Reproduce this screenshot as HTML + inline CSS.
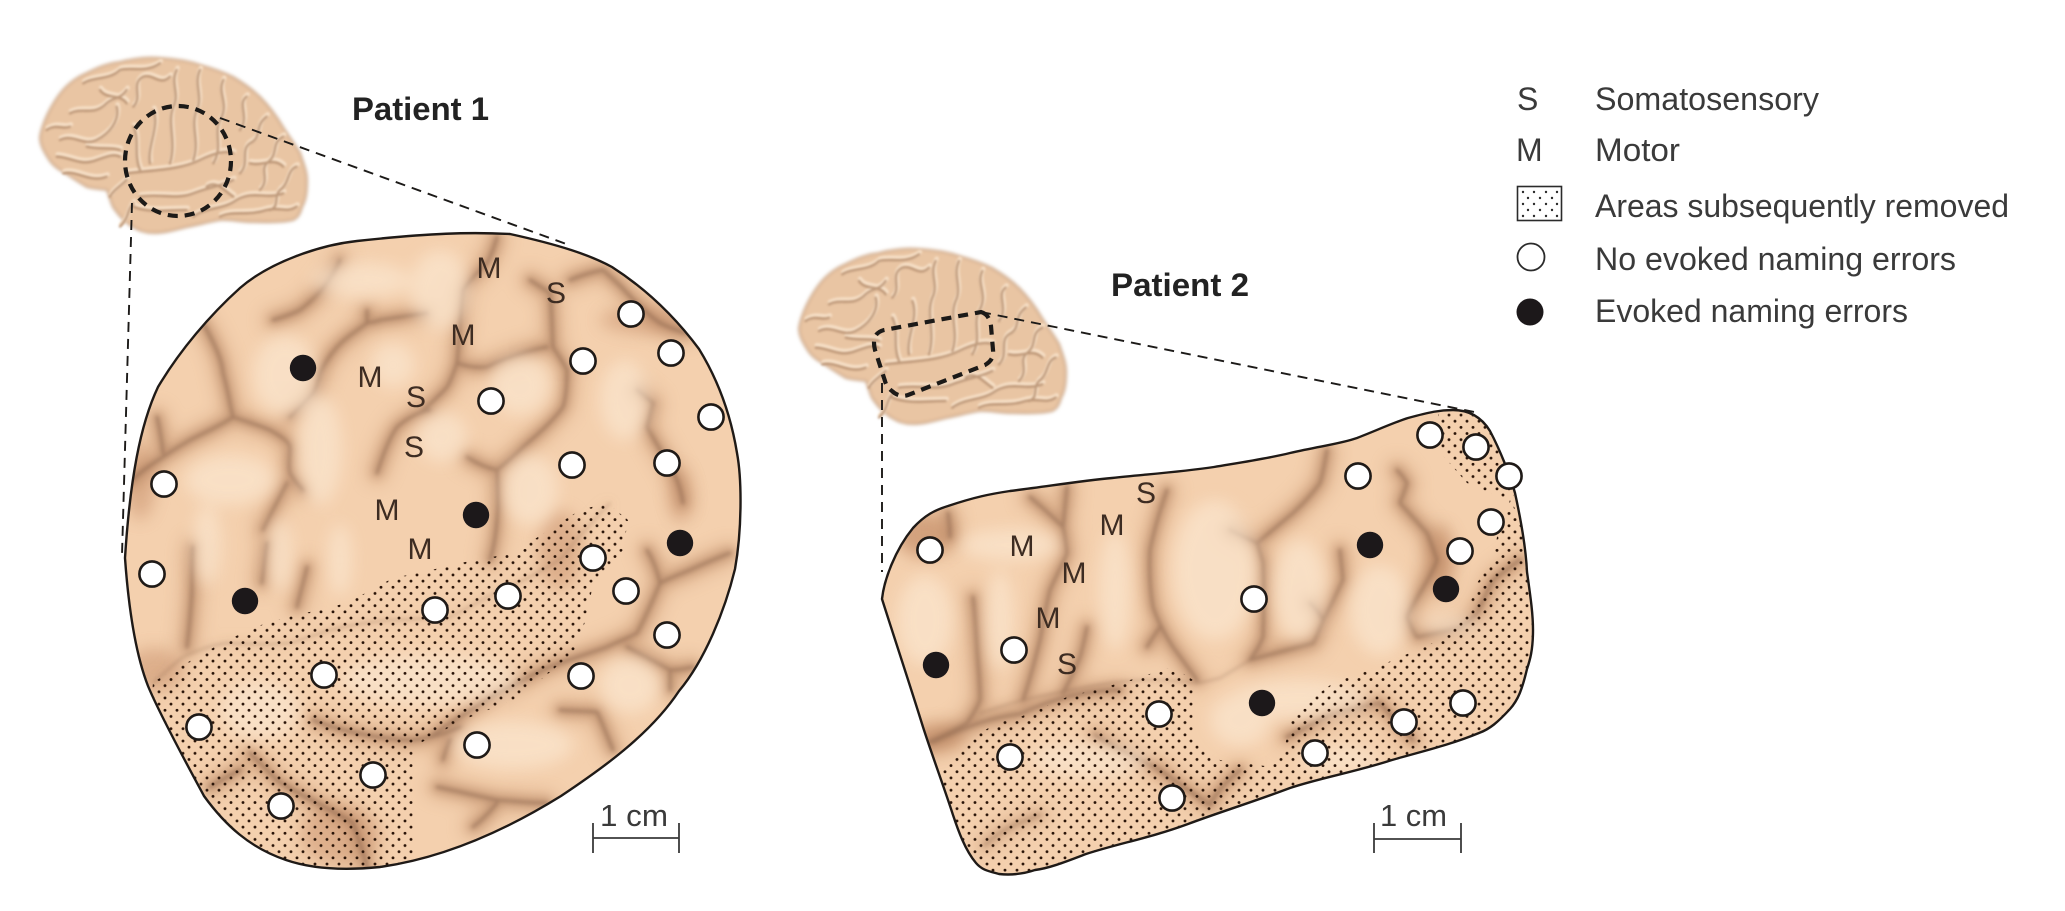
<!DOCTYPE html>
<html lang="en">
<head>
<meta charset="utf-8">
<title>Patient diagram</title>
<style>
html,body{margin:0;padding:0;background:#fff;width:2065px;height:911px;overflow:hidden}
svg{display:block}
text{font-family:"Liberation Sans",Arial,sans-serif}
.l{font-size:30px;fill:#3d2c22;text-anchor:middle}
.t{font-size:32px;fill:#3a3a3a}
.h{font-size:32px;font-weight:bold;fill:#222}
.c{font-size:31px;fill:#3a3a3a}
</style>
</head>
<body>
<svg width="2065" height="911" viewBox="0 0 2065 911" xmlns="http://www.w3.org/2000/svg">
<defs>
<filter id="b9" x="-30%" y="-30%" width="160%" height="160%"><feGaussianBlur stdDeviation="8"/></filter>
<filter id="b4" x="-30%" y="-30%" width="160%" height="160%"><feGaussianBlur stdDeviation="4.2"/></filter>
<filter id="b1" x="-30%" y="-30%" width="160%" height="160%"><feGaussianBlur stdDeviation="1.8"/></filter>
<filter id="bs" x="-10%" y="-10%" width="120%" height="120%"><feGaussianBlur stdDeviation="2.8"/></filter>
<filter id="bh" x="-10%" y="-10%" width="120%" height="120%"><feGaussianBlur stdDeviation="3"/></filter>
<filter id="be" x="-10%" y="-10%" width="120%" height="120%"><feGaussianBlur stdDeviation="1.8"/></filter>
<pattern id="st" width="12" height="12.3" patternUnits="userSpaceOnUse">
<circle cx="3" cy="3" r="1.45" fill="#2a1408"/><circle cx="9" cy="9.15" r="1.45" fill="#2a1408"/>
</pattern>
<path id="p1o" d="M125,558 C128,600 134,650 148,686 C160,715 190,770 204,796 C225,825 250,848 286,860 C315,870 350,870 380,867 C430,860 490,840 561,796 C600,770 650,735 679,691 C705,660 725,610 735,569 C742,530 742,480 737,453 C730,410 715,375 699,349 C670,310 640,285 612,267 C590,255 560,245 510,234 C470,232 430,233 357,241 C320,245 270,262 240,288 C210,315 180,350 158,387 C140,425 130,480 125,558 Z"/>
<path id="p2o" d="M882,599 C884,580 895,550 913,528 C925,515 935,510 948,506 C975,497 990,494 1010,491 C1050,486 1080,481 1112,478 C1150,474 1180,472 1214,467 C1250,461 1270,458 1290,453 C1320,446 1340,444 1357,438 C1375,431 1395,422 1408,418 C1430,412 1440,410 1453,410 C1470,410 1482,418 1490,431 C1500,450 1510,475 1515,493 C1522,525 1526,550 1527,572 C1531,600 1533,615 1533,630 C1533,650 1530,660 1527,669 C1522,690 1518,700 1510,709 C1498,722 1490,729 1479,733 C1450,745 1420,752 1392,760 C1355,772 1320,778 1290,788 C1250,803 1220,812 1188,824 C1150,838 1120,843 1086,854 C1065,862 1050,868 1035,870 C1020,875 1008,875 999,874 C988,871 982,870 976,863 C965,850 958,830 953,815 C945,790 932,755 923,727 C910,685 895,640 882,599 Z"/>
<clipPath id="c1"><use href="#p1o"/></clipPath>
<clipPath id="c2"><use href="#p2o"/></clipPath>
<g id="s1">
<path d="M203,323 C215,345 222,360 223,373 C228,390 230,405 233,417 C222,425 205,432 190,440 C178,447 170,452 163,457 C150,465 140,472 130,482"/>
<path d="M157,417 C160,430 162,442 163,453"/>
<path d="M340,260 C335,272 330,278 327,283 C318,295 308,304 300,310 C290,315 280,318 273,320"/>
<path d="M233,417 C245,421 258,425 270,430 C280,436 288,440 290,447 C290,458 288,465 290,473 C295,482 300,486 303,490 M287,483 C278,500 270,515 263,530"/>
<path d="M380,320 C376,322 371,322 367,323 C355,332 345,338 337,347 C330,355 324,364 320,373 C318,382 316,388 313,393 C305,402 297,410 290,417 M367,310 L367,323 M380,320 C395,318 412,315 427,313"/>
<path d="M430,410 C415,413 405,420 397,427 C388,440 382,458 377,473"/>
<path d="M497,237 C494,248 491,256 487,263 C478,272 468,282 463,290 C460,315 459,345 457,363 C453,375 450,382 447,387 C438,397 428,406 420,413"/>
<path d="M457,363 C468,367 478,368 487,367 C505,358 530,350 547,347"/>
<path d="M530,280 C538,285 545,290 550,293 C552,312 552,330 553,347 C558,355 563,362 567,370 C567,385 566,397 563,407 C552,422 537,435 523,447 C514,456 505,464 497,470 C487,468 476,463 467,457"/>
<path d="M497,470 C498,482 498,495 498,507 C497,525 495,545 490,560"/>
<path d="M570,280 C582,275 592,272 603,270 C612,278 620,285 627,293 C638,305 650,316 660,323 C670,328 678,331 687,333"/>
<path d="M637,390 C643,395 648,399 653,403 C650,412 649,420 647,427 C657,445 668,462 677,480 C680,488 682,496 683,503"/>
<path d="M193,547 C192,562 192,578 192,590 C191,610 189,630 187,647"/>
<path d="M267,543 C265,556 264,570 262,583"/>
<path d="M307,567 C304,580 300,594 297,607"/>
<path d="M153,683 C163,674 173,665 183,657 C198,650 212,645 227,643 C248,644 270,645 290,643 C304,639 317,634 330,630 C350,625 370,622 390,620 C405,620 418,619 430,618 C440,618 445,618 450,617 C462,611 475,604 487,597 C515,585 542,572 563,557 C568,550 575,540 590,525 C598,515 605,508 610,503" stroke-width="1.2"/>
<path d="M313,720 C328,726 342,730 357,733 C375,737 395,740 413,740 C430,738 447,733 460,727"/>
<path d="M250,753 C259,762 268,771 277,780 C290,789 304,796 317,803 C330,810 342,816 353,823 C358,838 363,850 367,868"/>
<path d="M210,787 C220,781 230,775 240,770"/>
<path d="M430,737 C440,730 450,723 460,717 C472,709 485,701 497,693 C515,684 532,675 547,668 C567,660 587,654 607,647 C617,642 628,638 637,633 C645,618 653,600 660,583 C657,570 652,558 647,550"/>
<path d="M660,583 C670,578 680,574 690,570 C703,564 717,558 730,553"/>
<path d="M627,647 C640,654 655,662 670,670 C678,670 685,669 693,667 M670,670 C670,677 670,683 670,690"/>
<path d="M560,710 C572,711 585,711 597,712 C603,725 608,738 613,750"/>
<path d="M437,787 C457,791 477,796 497,800 C515,801 530,803 547,803 M497,803 C490,812 482,820 473,827"/>
<path d="M443,760 C445,753 447,746 450,740"/>
</g>
<g id="s2">
<path d="M948,513 C949,520 950,530 950,537"/>
<path d="M973,597 C975,612 976,630 977,647 C978,665 980,682 980,700 C977,708 972,716 967,723 C955,730 940,737 927,743"/>
<path d="M980,713 C994,709 1009,704 1023,700 C1044,695 1066,691 1087,687 C1107,683 1127,680 1147,680 C1164,680 1181,681 1197,683 C1205,682 1212,680 1220,678 C1230,672 1240,666 1250,660" stroke-width="1.2"/>
<path d="M1030,497 C1042,507 1053,517 1063,527 C1065,535 1066,545 1067,553 C1062,566 1055,578 1050,590 C1046,606 1043,623 1040,640 C1035,660 1030,680 1023,700"/>
<path d="M1067,487 L1063,527"/>
<path d="M1167,490 C1160,510 1154,530 1150,550 C1149,570 1150,590 1153,607 C1158,622 1165,635 1173,647 C1181,658 1189,669 1197,680"/>
<path d="M1087,627 C1085,637 1083,647 1080,657 C1075,670 1069,682 1063,693"/>
<path d="M1160,627 C1155,634 1151,640 1147,647"/>
<path d="M1327,450 C1325,462 1323,473 1320,483 C1312,494 1303,504 1293,513 C1281,523 1269,533 1257,543 C1248,539 1239,535 1230,530"/>
<path d="M1257,543 C1259,550 1261,556 1263,563 C1264,588 1264,612 1263,637 C1260,645 1255,653 1250,660"/>
<path d="M1250,660 C1271,654 1292,649 1313,643 C1317,636 1320,628 1323,620 C1330,607 1337,593 1343,580 C1342,570 1341,560 1340,550"/>
<path d="M1310,603 C1315,608 1320,614 1323,620"/>
<path d="M1397,470 C1401,474 1404,478 1407,483 C1405,490 1402,497 1400,503 C1409,513 1418,523 1427,533 C1431,542 1434,551 1437,560 C1430,580 1415,598 1407,617 C1410,625 1413,631 1417,637 C1432,634 1446,631 1460,627 C1466,623 1472,618 1477,613 C1482,602 1488,591 1493,580 C1502,573 1511,566 1520,560"/>
<path d="M1287,737 C1302,729 1318,721 1333,713 C1348,709 1364,706 1380,703 C1391,715 1402,728 1413,740"/>
<path d="M933,742 C960,730 985,718 1020,714 C1050,700 1085,690 1120,690"/>
<path d="M1210,805 C1195,795 1180,785 1160,770 C1130,755 1110,745 1095,735 M1240,770 C1222,785 1215,795 1210,805"/>
<path d="M985,845 C1000,830 1020,822 1040,815" opacity=".6"/>
</g>
<g id="bf">
<path d="M120,300 C160,280 190,320 230,300 C270,280 300,240 290,200"/>
<path d="M150,220 C190,200 220,230 260,190 C280,170 300,180 320,150"/>
<path d="M110,350 C150,350 180,380 230,360 C260,350 280,340 300,350"/>
<path d="M130,400 C170,390 210,430 260,410"/>
<path d="M190,130 C220,110 270,120 300,90 C330,80 380,100 420,70"/>
<path d="M340,200 C370,170 330,130 370,110 C400,100 420,140 450,110"/>
<path d="M340,260 C360,300 340,340 360,390"/>
<path d="M400,210 C420,260 380,320 390,370"/>
<path d="M470,90 C450,130 480,160 460,200 C440,250 470,300 450,370"/>
<path d="M540,90 C520,130 550,170 530,210 C510,260 540,300 520,360"/>
<path d="M610,120 C590,160 630,190 600,240 C580,280 610,320 580,370"/>
<path d="M680,170 C650,190 690,230 660,270"/>
<path d="M740,230 C700,260 730,290 690,310 C660,330 690,370 660,400"/>
<path d="M790,290 C750,310 780,340 740,370 C720,390 750,420 720,450"/>
<path d="M830,380 C800,390 810,430 780,450 C760,470 780,500 750,510"/>
<path d="M320,400 C400,390 480,390 540,360 C580,340 620,330 640,340"/>
<path d="M320,420 C300,440 280,450 270,470"/>
<path d="M360,470 C420,460 470,480 520,460 C570,440 600,440 640,420"/>
<path d="M340,500 C390,520 440,510 500,510"/>
<path d="M520,530 C560,500 610,510 650,480 C700,450 740,480 790,460"/>
<path d="M600,530 C640,510 680,530 740,510 C780,500 800,520 830,500"/>
<path d="M690,370 C730,380 760,350 790,380"/>
<path d="M560,440 C590,420 610,450 640,470"/>
<path d="M300,560 C330,530 320,510 340,490"/>
<path d="M80,270 C110,250 130,270 150,260"/>
<path d="M240,150 C260,180 300,160 320,190"/>
<path d="M200,320 C240,330 270,320 300,330"/>
</g>
<g id="brain">
<path d="M40,137 C42,125 50,105 63,90 C72,80 80,76 87,73 C100,66 110,63 120,62 C135,58 150,57 160,58 C175,59 190,61 200,65 C215,69 225,73 233,77 C245,84 253,90 260,97 C270,107 277,117 283,127 C290,138 296,146 300,153 C304,165 307,172 307,180 C307,192 306,200 302,207 C300,214 298,218 293,220 C280,223 265,222 253,222 C240,222 230,219 220,220 C208,222 198,225 187,227 C175,230 165,233 153,233 C145,233 139,231 133,227 C124,222 118,214 113,207 C110,200 109,195 107,190 C100,189 94,189 87,187 C78,182 70,176 60,170 C52,165 49,160 45,153 C42,148 40,143 40,137 Z" fill="#e9c5a3" stroke="#c09674" stroke-width="1.6" filter="url(#be)"/>
<g transform="translate(20,40) scale(.3333)" fill="none" stroke-linecap="round">
<use href="#bf" transform="translate(3,-7)" stroke="#f6dfc6" stroke-width="13" filter="url(#bh)"/>
<use href="#bf" stroke="#ab8262" stroke-width="7" filter="url(#bs)" opacity=".75"/>
</g>
</g>
</defs>
<rect width="2065" height="911" fill="#fff"/>

<use href="#brain"/>
<use href="#brain" transform="translate(759,191)"/>

<!-- Patient 1 surface -->
<g clip-path="url(#c1)">
<rect x="110" y="220" width="640" height="660" fill="#f4d0ae"/>
<g fill="#cf9a76" opacity=".6" filter="url(#b9)">
<ellipse cx="140" cy="480" rx="16" ry="40"/><ellipse cx="155" cy="670" rx="30" ry="22"/>
<ellipse cx="680" cy="495" rx="10" ry="28"/><ellipse cx="650" cy="320" rx="50" ry="14"/>
<ellipse cx="560" cy="550" rx="22" ry="40"/><ellipse cx="340" cy="835" rx="40" ry="30"/>
</g>
<g fill="none" stroke-linecap="round" stroke-linejoin="round">
<use href="#s1" stroke="#c9966f" stroke-width="22" filter="url(#b9)" opacity=".5"/>
<use href="#s1" stroke="#a4775a" stroke-width="9" filter="url(#b4)" opacity=".5"/>
<use href="#s1" stroke="#7d5a44" stroke-width="3" filter="url(#b1)" opacity=".38"/>
</g>
<g fill="#fbe6cf" opacity=".7" filter="url(#b9)">
<ellipse cx="230" cy="480" rx="45" ry="25"/><ellipse cx="320" cy="450" rx="22" ry="55"/>
<ellipse cx="285" cy="375" rx="32" ry="40"/><ellipse cx="393" cy="365" rx="22" ry="22"/>
<ellipse cx="442" cy="437" rx="25" ry="25"/><ellipse cx="520" cy="385" rx="30" ry="30"/>
<ellipse cx="625" cy="400" rx="25" ry="40"/><ellipse cx="530" cy="490" rx="28" ry="35"/>
<ellipse cx="207" cy="545" rx="14" ry="40"/><ellipse cx="280" cy="555" rx="12" ry="36"/><ellipse cx="340" cy="560" rx="12" ry="36"/>
<ellipse cx="430" cy="680" rx="90" ry="26"/><ellipse cx="260" cy="710" rx="40" ry="30"/>
<ellipse cx="630" cy="685" rx="30" ry="28"/><ellipse cx="513" cy="745" rx="60" ry="24"/>
<ellipse cx="440" cy="290" rx="30" ry="40"/><ellipse cx="360" cy="280" rx="50" ry="18"/>
</g>
<path d="M153,682 L227,640 L268,622 L347,603 L393,578 L423,572 L460,563 L513,553 L580,510 L607,503 L628,520 L623,550 L593,583 L587,617 L573,653 L520,697 L463,720 L413,747 L413,880 L327,880 L240,850 L190,800 L150,720 Z" fill="url(#st)"/>
</g>
<use href="#p1o" fill="none" stroke="#1f1a17" stroke-width="2.4"/>

<!-- Patient 2 surface -->
<g clip-path="url(#c2)">
<rect x="870" y="400" width="680" height="490" fill="#f4d0ae"/>
<g fill="#c48d68" opacity=".7" filter="url(#b9)">
<ellipse cx="925" cy="535" rx="30" ry="22"/><ellipse cx="935" cy="738" rx="30" ry="14"/>
<ellipse cx="1440" cy="560" rx="14" ry="35"/>
</g>
<g fill="none" stroke-linecap="round" stroke-linejoin="round">
<use href="#s2" stroke="#c9966f" stroke-width="22" filter="url(#b9)" opacity=".5"/>
<use href="#s2" stroke="#a4775a" stroke-width="9" filter="url(#b4)" opacity=".5"/>
<use href="#s2" stroke="#7d5a44" stroke-width="3" filter="url(#b1)" opacity=".38"/>
</g>
<g fill="#fbe6cf" opacity=".7" filter="url(#b9)">
<ellipse cx="1215" cy="570" rx="42" ry="70"/><ellipse cx="1300" cy="590" rx="26" ry="50"/>
<ellipse cx="1115" cy="590" rx="16" ry="60"/><ellipse cx="925" cy="620" rx="28" ry="45"/>
<ellipse cx="1000" cy="620" rx="14" ry="50"/><ellipse cx="1010" cy="545" rx="50" ry="16"/>
<ellipse cx="1300" cy="700" rx="70" ry="20"/><ellipse cx="1380" cy="610" rx="30" ry="45"/>
<ellipse cx="1450" cy="625" rx="30" ry="10"/><ellipse cx="1240" cy="720" rx="30" ry="26"/>
<ellipse cx="1090" cy="760" rx="60" ry="18"/><ellipse cx="1340" cy="760" rx="40" ry="14"/>
</g>
<path d="M933,777 L963,743 L997,723 L1020,717 L1067,697 L1120,683 L1173,667 L1193,680 L1193,740 L1220,760 L1265,766 L1283,753 L1293,713 L1333,683 L1377,667 L1433,643 L1467,613 L1477,583 L1493,560 L1497,537 L1510,500 L1545,560 L1545,700 L1490,745 L1290,800 L1040,885 L985,885 L955,830 Z" fill="url(#st)"/>
<path d="M1438,450 L1467,483 L1500,497 L1515,500 L1500,440 L1482,405 L1438,405 Z" fill="url(#st)"/>
</g>
<use href="#p2o" fill="none" stroke="#1f1a17" stroke-width="2.4"/>

<!-- Dashed connectors -->
<g fill="none" stroke="#1c1a18">
<ellipse cx="178" cy="161" rx="53" ry="55" stroke-width="4.2" stroke-dasharray="10 7"/>
<path d="M220,118 L569,245" stroke-width="1.9" stroke-dasharray="10 7"/>
<path d="M132,203 L122,555" stroke-width="1.9" stroke-dasharray="10 7"/>
<path d="M981,312 C988,314 990,320 991,326 L993,350 C994,358 990,362 985,365 L908,395 C902,397 896,395 892,391 C888,388 886,385 885,381 L875,350 C872,338 876,332 884,330 Z" stroke-width="4.2" stroke-dasharray="10 7"/>
<path d="M981,312 L1479,413" stroke-width="1.9" stroke-dasharray="10 7"/>
<path d="M882,383 L882,572" stroke-width="1.9" stroke-dasharray="10 7"/>
</g>

<!-- Markers -->
<g fill="#fff" stroke="#1f1a17" stroke-width="2.6">
<circle cx="631" cy="314" r="12.6"/><circle cx="671" cy="353" r="12.6"/><circle cx="711" cy="417" r="12.6"/>
<circle cx="583" cy="361" r="12.6"/><circle cx="491" cy="401" r="12.6"/><circle cx="572" cy="465" r="12.6"/>
<circle cx="667" cy="463" r="12.6"/><circle cx="164" cy="484" r="12.6"/><circle cx="152" cy="574" r="12.6"/>
<circle cx="593" cy="558" r="12.6"/><circle cx="626" cy="591" r="12.6"/><circle cx="508" cy="596" r="12.6"/>
<circle cx="435" cy="610" r="12.6"/><circle cx="667" cy="635" r="12.6"/><circle cx="581" cy="676" r="12.6"/>
<circle cx="324" cy="675" r="12.6"/><circle cx="199" cy="727" r="12.6"/><circle cx="477" cy="745" r="12.6"/>
<circle cx="373" cy="775" r="12.6"/><circle cx="281" cy="806" r="12.6"/>
<circle cx="1430" cy="435" r="12.6"/><circle cx="1476" cy="447" r="12.6"/><circle cx="1509" cy="476" r="12.6"/>
<circle cx="1358" cy="476" r="12.6"/><circle cx="1491" cy="522" r="12.6"/><circle cx="1460" cy="551" r="12.6"/>
<circle cx="930" cy="550" r="12.6"/><circle cx="1254" cy="599" r="12.6"/><circle cx="1014" cy="650" r="12.6"/>
<circle cx="1159" cy="714" r="12.6"/><circle cx="1010" cy="757" r="12.6"/><circle cx="1463" cy="703" r="12.6"/>
<circle cx="1404" cy="722" r="12.6"/><circle cx="1315" cy="753" r="12.6"/><circle cx="1172" cy="798" r="12.6"/>
</g>
<g fill="#1c181a">
<circle cx="303" cy="368" r="13.2"/><circle cx="476" cy="515" r="13.2"/><circle cx="680" cy="543" r="13.2"/><circle cx="245" cy="601" r="13.2"/>
<circle cx="1370" cy="545" r="13.2"/><circle cx="1446" cy="589" r="13.2"/><circle cx="936" cy="665" r="13.2"/><circle cx="1262" cy="703" r="13.2"/>
</g>

<!-- Surface labels -->
<g>
<text class="l" x="489" y="278">M</text><text class="l" x="556" y="303">S</text><text class="l" x="463" y="345">M</text>
<text class="l" x="370" y="387">M</text><text class="l" x="416" y="407">S</text><text class="l" x="414" y="457">S</text>
<text class="l" x="387" y="520">M</text><text class="l" x="420" y="559">M</text>
<text class="l" x="1146" y="503">S</text><text class="l" x="1112" y="535">M</text><text class="l" x="1022" y="556">M</text>
<text class="l" x="1074" y="583">M</text><text class="l" x="1048" y="628">M</text><text class="l" x="1067" y="674">S</text>
</g>

<!-- Titles -->
<text class="h" x="352" y="120" textLength="137" lengthAdjust="spacingAndGlyphs">Patient 1</text>
<text class="h" x="1111" y="296" textLength="138" lengthAdjust="spacingAndGlyphs">Patient 2</text>

<!-- Scale bars -->
<g fill="none" stroke="#3a3a3a" stroke-width="1.8">
<path d="M593,823 V853 M679,823 V853 M593,838 H679"/>
<path d="M1374,823 V853 M1461,823 V853 M1374,839 H1461"/>
</g>
<text class="c" x="600" y="826" textLength="68" lengthAdjust="spacingAndGlyphs">1 cm</text>
<text class="c" x="1380" y="826" textLength="67" lengthAdjust="spacingAndGlyphs">1 cm</text>

<!-- Legend -->
<text class="t" x="1517" y="110">S</text>
<text class="t" x="1595" y="110" textLength="224" lengthAdjust="spacingAndGlyphs">Somatosensory</text>
<text class="t" x="1516" y="161">M</text>
<text class="t" x="1595" y="161" textLength="85" lengthAdjust="spacingAndGlyphs">Motor</text>
<rect x="1517.5" y="186.5" width="44" height="34" fill="#fff" stroke="#2b2b2b" stroke-width="1.6"/>
<g fill="#2b2b2b">
<circle cx="1523" cy="192" r="1.2"/><circle cx="1534" cy="192" r="1.2"/><circle cx="1546" cy="192" r="1.2"/><circle cx="1557" cy="192" r="1.2"/>
<circle cx="1528" cy="198" r="1.2"/><circle cx="1540" cy="198" r="1.2"/><circle cx="1552" cy="198" r="1.2"/>
<circle cx="1523" cy="204" r="1.2"/><circle cx="1534" cy="204" r="1.2"/><circle cx="1546" cy="204" r="1.2"/><circle cx="1557" cy="204" r="1.2"/>
<circle cx="1528" cy="210" r="1.2"/><circle cx="1540" cy="210" r="1.2"/><circle cx="1552" cy="210" r="1.2"/>
<circle cx="1523" cy="216" r="1.2"/><circle cx="1534" cy="216" r="1.2"/><circle cx="1546" cy="216" r="1.2"/><circle cx="1557" cy="216" r="1.2"/>
</g>
<text class="t" x="1595" y="217" textLength="414" lengthAdjust="spacingAndGlyphs">Areas subsequently removed</text>
<circle cx="1531" cy="257" r="13.5" fill="#fff" stroke="#2b2b2b" stroke-width="1.8"/>
<text class="t" x="1595" y="270" textLength="361" lengthAdjust="spacingAndGlyphs">No evoked naming errors</text>
<circle cx="1530" cy="312" r="13.5" fill="#1c181a"/>
<text class="t" x="1595" y="322" textLength="313" lengthAdjust="spacingAndGlyphs">Evoked naming errors</text>
</svg>
</body>
</html>
